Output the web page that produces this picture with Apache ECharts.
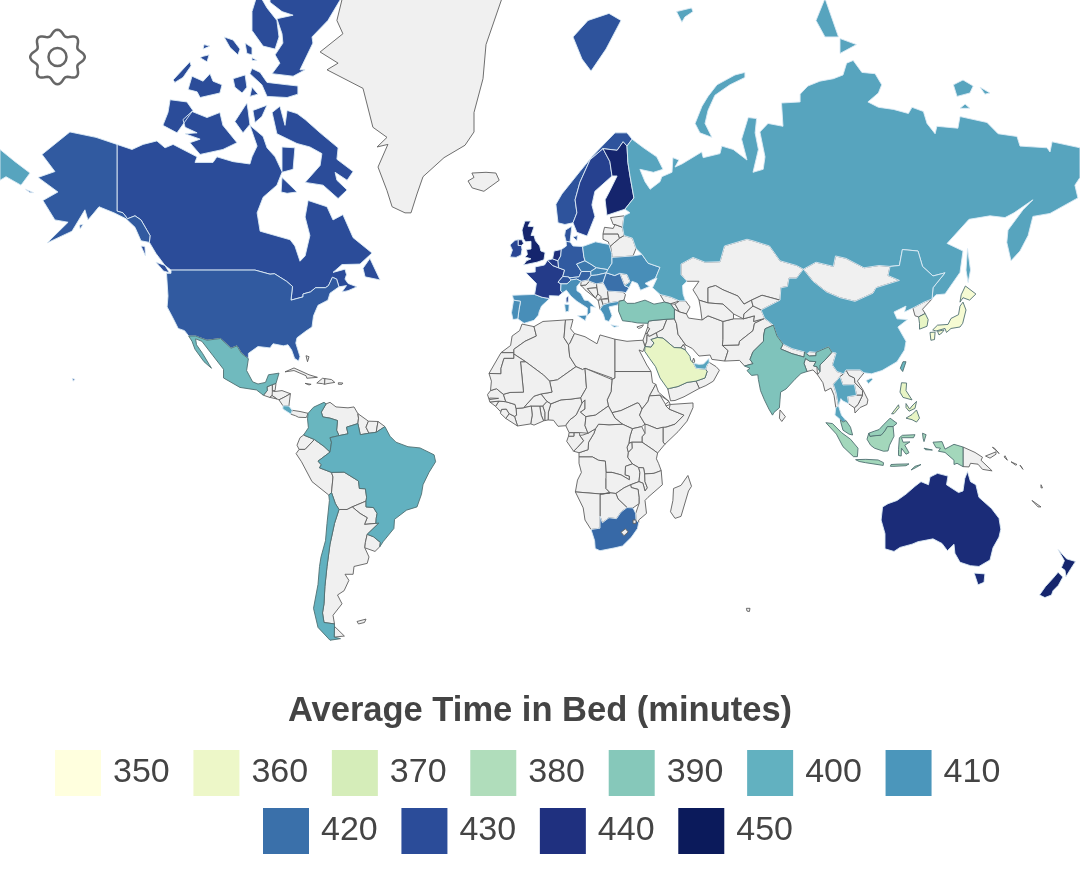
<!DOCTYPE html>
<html>
<head>
<meta charset="utf-8">
<title>Average Time in Bed</title>
<script src="https://cdn.jsdelivr.net/npm/echarts@6/dist/echarts.min.js"></script>
<style>
  html, body { margin: 0; padding: 0; background: #fff; }
  #main { width: 1080px; height: 887px; }
</style>
</head>
<body>
<div id="main"></div>
<script>
const countryNames = ['Canada','United States','Mexico','Colombia','Brazil','Chile','Costa Rica','Spain','Portugal','France','United Kingdom','Ireland','Netherlands','Belgium','Germany','Denmark','Norway','Sweden','Finland','Poland','Czechia','Austria','Switzerland','Italy','Slovakia','Hungary','Romania','Ukraine','Greece','Turkey','Russia','China','India','Saudi Arabia','United Arab Emirates','Japan','South Korea','Taiwan','Philippines','Thailand','Malaysia','Indonesia','Australia','New Zealand','South Africa'];
const countryValues = [430,426,396,398,400,400,404,412,412,436,445,432,441,436,426,428,428,434,445,411,418,424,428,412,414,418,420,412,411,390,405,405,392,362,405,355,362,398,362,405,386,383,442,445,422];
const legendRowOne = [350,360,370,380,390,400,410];
const legendRowTwo = [420,430,440,450];
const legendColors = ['#ffffde','#edf7c8','#d5edb9','#b0ddbb','#86c8ba','#62b1c0','#4b96bb','#3a70aa','#2b4c99','#1f307f','#0b1a5b'];

// lng,lat rings per country, fed to registerMap and projected by the chart
const outlines = {
  'Greenland': [[-62.7,83,-67.7,80,-65.7,79.2,-73.3,78,-67.3,77.2,-71,76.7,-59,75.2,-55.7,71.5,-51,70.4,-54.3,69.3,-50.7,69.6,-54,66.8,-51,63.5,-49.3,61,-45,60,-43,60,-41,63,-39,65.5,-32,68,-25,69.5,-22,71,-22,73,-19,76,-18,78.5,-12,81.5,-10,83]],
  'Iceland': [[-22.7,66,-18,66.1,-14.7,66,-13.6,65,-18.7,63.4,-22.6,63.9,-24,64.9,-22,65.4]],
  'Guatemala': [[-92.2,14.5,-90.9,16,-91,17.2,-89.2,17.9,-89.2,15.9,-88.3,15.7,-89.3,14.4,-90.1,13.8]],
  'Belize': [[-89.2,17.9,-88,18.3,-88.3,16,-89.2,15.9]],
  'Honduras': [[-89.2,15.9,-88.3,15.7,-86,16,-83.2,15,-85,14,-87,13,-87.7,13.3,-89.3,14.4]],
  'El Salvador': [[-90.1,13.8,-89.3,14.4,-87.7,13.3]],
  'Nicaragua': [[-87,13,-85,14,-83.2,15,-83.7,11,-85.7,11.1]],
  'Panama': [[-83,8.3,-82.6,9.6,-80,9.2,-77.3,8.6,-77.9,7.2,-80.5,7.3,-81.5,7.8]],
  'Cuba': [[-85,21.9,-82,23.1,-77,21,-74.2,20.2,-77.7,19.9,-78,20.7,-82,22.3]],
  'Haiti': [[-74.4,18.4,-72.5,19.9,-71.7,19.8,-71.8,18,-72.5,18.2]],
  'Dominican Republic': [[-71.7,19.8,-69.5,19.5,-68.4,18.6,-71,18.2,-71.8,18]],
  'Jamaica': [[-78.3,18.3,-76.3,18,-77,17.8]],
  'Puerto Rico': [[-67.2,18.5,-65.7,18.4,-66,18,-67.2,18]],
  'Bahamas': [[-78,26.8,-77,26.5,-77.5,25]],
  'Venezuela': [[-71.3,11.7,-70,12.2,-68,10.7,-64,10.4,-62,10.7,-60.7,8.5,-60.5,7,-60.7,5.2,-64.5,4,-64,1.8,-67,1.2,-67.8,3,-67.5,6.2,-70,7,-72.4,7.4,-72.9,9]],
  'Guyana': [[-60.7,8.5,-57.2,6,-58,4,-57,2,-59.9,1.5,-60.7,5.2,-60.5,7]],
  'Suriname': [[-57.2,6,-54,5.9,-54.6,2.3,-57,2,-58,4]],
  'French Guiana': [[-54,5.9,-51.7,4.2,-54.6,2.3]],
  'Ecuador': [[-78.8,1.4,-75.2,-0.1,-78.3,-3.4,-80.3,-3.4,-81,-2,-80,0.5]],
  'Peru': [[-80.3,-3.4,-78.3,-3.4,-75.2,-0.1,-72,-2.4,-70,-4.3,-74,-7.3,-72.9,-8.5,-73.5,-9.5,-69.5,-11,-69,-12.5,-69.5,-17.5,-70.4,-18.3,-76,-14,-79.5,-7.5,-81.3,-4.8]],
  'Bolivia': [[-69.5,-11,-65.3,-10.9,-60.5,-13.8,-60.2,-16.2,-58.2,-16.3,-57.8,-19,-58,-20.2,-62.6,-22,-64.3,-22.8,-67,-22.8,-68.2,-21,-69.5,-17.5,-69,-12.5]],
  'Paraguay': [[-58,-20.2,-58,-22,-55.5,-22.2,-54.3,-24,-54.6,-25.5,-54.7,-27,-58.5,-27.3,-57.6,-25.3,-60,-24,-62.6,-22]],
  'Argentina': [[-67,-22.8,-64.3,-22.8,-62.6,-22,-60,-24,-57.6,-25.3,-58.5,-27.3,-54.7,-27,-53.7,-26.9,-57.6,-30.2,-58.2,-32.5,-58.4,-34,-57,-36.5,-57.6,-38.2,-62,-39,-62.3,-41,-65,-41,-63.7,-42.5,-65.3,-45,-67.5,-46,-66,-48,-69,-50.5,-68.5,-52.3,-72,-52,-72.5,-50,-72,-48,-71.7,-44,-71,-39,-70,-33,-68.5,-27],[-68.6,-54.9,-65.2,-54.7,-68.5,-52.8]],
  'Uruguay': [[-57.6,-30.2,-55.5,-30.9,-53.2,-32.5,-53.4,-33.7,-55,-35,-58.4,-34,-58.2,-32.5]],
  'Falkland Islands': [[-61,-51.8,-58,-51.3,-58.5,-52,-60.5,-52.3]],
  'Slovenia': [[13.7,46.5,16,46.8,16.5,46.5,15.3,45.6,13.6,45.5]],
  'Croatia': [[13.6,45.5,15.3,45.6,16.5,46.5,18.8,45.9,19,45,15.8,44.8,18.5,42.5,15,44.5,14.2,45.2]],
  'Bosnia': [[15.8,44.8,19,45,19.3,43.5,18.5,42.5]],
  'Serbia': [[18.8,45.9,21,46.2,22.5,44.5,22.8,42.5,20.5,42.2,19.3,43.5,19,45]],
  'Montenegro': [[18.5,42.5,19.3,43.5,20.5,42.8,19.4,41.9]],
  'Albania': [[19.4,41.9,20.5,42.2,21,40.8,20,39.7]],
  'North Macedonia': [[20.5,42.2,22.8,42.3,23,41.3,21,40.9]],
  'Bulgaria': [[22.5,44.2,27.5,44,28.5,43.4,28,42,26.3,41.7,23,41.3,22.8,42.5]],
  'Moldova': [[26.6,48.3,29,48,30,46.4,28.2,45.5]],
  'Belarus': [[23.9,52.5,24,51.7,31,52,32,53.5,30.8,55.5,28,56,26.5,55.5,23.5,54]],
  'Lithuania': [[21,56.3,26,56.3,26.5,55.5,23.5,54,23,54.3,22.8,54.8,21,55.3]],
  'Latvia': [[21,56.3,21.5,57.5,24.4,57.3,25,58,27.5,57.5,28,56,26.5,55.5,26,56.3]],
  'Estonia': [[23.5,59.2,28,59.5,27.5,57.5,25,58,24.4,58]],
  'Georgia': [[40,43.4,43.7,42.7,46.5,41.8,43.5,41.1,41.5,41.5]],
  'Armenia': [[43.5,41.1,45,41,46.5,39,44.8,39.7]],
  'Azerbaijan': [[46.5,41.8,48.5,41.8,50,40.3,48.8,38.5,46.5,39,45,41]],
  'Cyprus': [[32.3,35,34.5,35.6,33.9,34.9,32.9,34.6]],
  'Syria': [[36,36,36.2,36.6,38,36.8,42.3,37.1,41,34.4,38.8,33.4,36.5,32.4,35.7,33.3,36.5,34.5,35.9,35]],
  'Lebanon': [[35.9,35,36.5,34.5,35.7,33.3,35.1,33.1]],
  'Israel': [[35.1,33.1,35.7,33.3,35.6,31,35,29.5,34.3,31.3]],
  'Jordan': [[35.6,31,35.7,32.7,36.5,32.4,38.8,33.4,39.2,32.1,37,31.5,38,30.5,37,29.3,35,29.5]],
  'Iraq': [[42.3,37.1,44.8,37.2,45.5,35.9,46,33,48.6,29.9,47.7,30,47,29.1,44.7,29.2,41,31.9,39.2,32.1,38.8,33.4,41,34.4]],
  'Kuwait': [[47.7,30,48.4,29.3,48.4,28.5,47,29.1]],
  'Qatar': [[51.2,24.5,50.8,25,51.2,26.1,51.6,25.2]],
  'Oman': [[55.2,22.7,55.7,24,56.4,24.8,58.7,23.5,59.8,22.4,57.8,19,55.3,17.6,53.1,16.7,52,19,55,20,55.7,22]],
  'Yemen': [[42.6,16.5,43.2,16.7,46,17.3,49,18.6,52,19,53.1,16.7,48,14,45,12.8,43.5,12.7]],
  'Iran': [[44.8,39.7,46.5,39,48.8,38.5,49.5,37.4,54,36.9,56,38,61,36.5,61,31.5,60.8,29.8,62.7,28.3,61.6,25.2,57.3,25.7,56.7,27,53,26.7,50.8,28.9,48.6,29.9,46,33,45.5,35.9,44.8,37.2]],
  'Afghanistan': [[61,36.5,64.5,37.2,67.8,37.2,71.5,38,71.2,36.5,74.9,37.3,71.5,36,71,34,69.5,33,66.5,31,66.3,29.9,60.8,29.8,61,31.5]],
  'Pakistan': [[60.8,29.8,66.3,29.9,66.5,31,69.5,33,71,34,71.5,36,74.9,37.3,77.8,35.5,75,34.5,74.5,32.5,74.5,31,71,28,70,25.7,71,24.4,68.2,23.7,66.5,25.4,61.6,25.2,62.7,28.3]],
  'Nepal': [[80.2,28.8,81,30.2,84,28.9,88.2,27.9,88,26.4,84,27.4]],
  'Bhutan': [[88.9,27.3,89.8,28,92,27.8,92,26.8,89.8,26.7]],
  'Bangladesh': [[88,24.5,88.5,26,89.8,25.2,92,25,91.2,23.7,92.3,23.5,92.5,21,91,22.5,89,22]],
  'Sri Lanka': [[80,9.7,81.8,7.5,80.6,5.9,79.8,7]],
  'Mongolia': [[87.8,49.2,92,50.7,97.8,49.8,98.5,52,102,51.5,108,49.5,113,50,116.7,49.8,116,47.8,119.8,46.7,112,45,111,43.7,105,41.7,100,42.6,95.5,44,91,46.5]],
  'Kazakhstan': [[47,50.3,51,51.7,55,50.7,60,50.8,61.5,54,69,55.3,71,55,76.5,54,80,51,85.5,50,87.8,49.2,85.5,47.2,83,47.2,82.5,45.3,80.3,45,80,42,74,43.2,70.5,42,68,41,66,43,61,44.5,58.5,45.5,56,45,56,41.3,53,42,52.5,42.8,51,44.5,53,46.5,49,46.5,47,48]],
  'Uzbekistan': [[56,45,58.5,45.5,61,44.5,66,43,68,41,70.5,42,71,40.5,68,38.5,67.8,37.2,64.5,38.5,61,41,56,41.3]],
  'Turkmenistan': [[53,42,56,41.3,61,41,64.5,38.5,64.5,37.2,61,36.5,56,38,54,36.9,53.5,40]],
  'Kyrgyzstan': [[70.5,42,74,43.2,80,42,73.7,39.5,71,40.5]],
  'Tajikistan': [[68,38.5,71,40.5,73.7,39.5,74.9,37.3,71.2,36.5,71.5,38,67.8,37.2]],
  'Myanmar': [[92.5,21,93.3,22,93.3,24,95,25.5,97.3,27.8,98.7,27.6,97.5,24,99,22,101.2,21.3,100,20.4,97.8,18,98.7,15.3,99.5,11,98.6,10.5,98,14.5,97,16.8,95,15.8,94.3,18.5]],
  'Laos': [[101.2,21.3,102,22.5,103,20.8,104.8,20,105,18.5,107.5,16,107.5,14.5,105.5,14.5,104.8,17.9,101,17.8,100,20.4]],
  'Vietnam': [[102,22.5,106.7,22.5,108,21.6,105.8,19,107.5,16.5,109.3,13,109,11.5,106.7,10.5,105,8.7,104.8,10.4,106,11.5,107.5,14.5,107.5,16,105,18.5,104.8,20,103,20.8]],
  'Cambodia': [[102.5,14,105.5,14.5,107.5,14.5,106,11.5,104.8,10.4,102.9,11.7]],
  'Papua New Guinea': [[141,-2.6,145,-4.4,147.5,-6,147,-7,150.7,-10.5,147.5,-10,146,-8.3,143.5,-8,143,-9.2,141,-9.1],[148.5,-5.6,152,-4.2,152,-5,150,-6.3],[150.8,-2.7,152.8,-4.4,153,-4.8,151.5,-3]],
  'Solomon Islands': [[155,-5.5,155.8,-7,154.7,-5.9],[157,-7.5,159,-8.4,158.5,-8.6],[160,-8.6,161,-10,160.7,-10]],
  'Vanuatu': [[167,-15,167.5,-16,167,-16]],
  'New Caledonia': [[164,-20,167,-22,166,-22]],
  'North Korea': [[124.3,40,128,41.5,130.7,42.3,127.5,39.7,128.4,38.6,126.2,37.7,125,38]],
  'Kerguelen': [[68.8,-49,70,-49,69.8,-49.7,69,-49.6]],
  'Morocco': [[-6,35.8,-2,35.1,-1.2,32.5,-5,31,-8.7,28.7,-8.7,27.7,-13,27.7,-9.8,29.8,-9.3,32.5,-6.8,34]],
  'Western Sahara': [[-8.7,27.7,-13,27.7,-17,21.4,-13,21.3,-13,23,-12,26,-8.7,26]],
  'Algeria': [[-2,35.1,-1.2,32.5,-5,31,-8.7,28.7,-8.7,27.3,-4.8,25,1.2,20.9,3.2,19,5.8,19.4,12,23.5,9.9,26.5,9.5,30,8,32,8.5,36.9,1,36.5]],
  'Tunisia': [[8.5,36.9,11,37,10.2,34.5,11.5,33.2,10,30.5,9.5,30,8,32]],
  'Libya': [[11.5,33.2,15,32.3,19,30.3,20,32.8,25,31.6,25,20,24,19.5,24,20,15,23,14.2,22.6,12,23.5,9.9,26.5,9.5,30,10,30.5]],
  'Egypt': [[25,31.6,29,31,32,31.2,34.3,31.3,35,29.5,34.3,28,33,28.5,35.6,24,37,22,25,22]],
  'Sudan': [[25,22,37,22,37.5,18.5,38.6,18,36.5,14.3,36,12.5,34,10,33,11.8,32.4,12,27,9.5,24,8.8,22.8,11,22.4,13,23.7,15.7,24,19.5,25,20]],
  'South Sudan': [[24,8.8,27,9.5,32.4,12,33,11.8,34,10,33.2,8,35,5,33.9,4.2,30.8,3.5,27.5,5,25,7]],
  'Eritrea': [[38.6,18,39.5,15.5,43,12.5,40,14.5,36.5,14.3]],
  'Djibouti': [[43,12.5,43.4,11.5,42,11,41.8,11.6]],
  'Ethiopia': [[36.5,14.3,40,14.5,41.8,11.6,42,11,43,10,48,8,45,5,42,4,39,3.5,35.8,4.8,35,5,33.2,8,34,10,36,12.5]],
  'Somalia': [[43,10,43.4,11.5,51,12,51,10.5,49,6,46,2.5,41.6,-1.7,41,-0.9,41,4,42,4,45,5,48,8]],
  'Kenya': [[35,5,35.8,4.8,39,3.5,41,4,41,-0.9,41.6,-1.7,39.2,-4.6,37.7,-3.5,34,-1,34,0.8,35,2]],
  'Uganda': [[30.8,3.5,33.9,4.2,35,2,34,0.8,34,-1,30.6,-1,29.6,-1.4,30,1]],
  'Tanzania': [[30.6,-1,34,-1,37.7,-3.5,39.2,-4.6,38.8,-6.5,39.5,-8,40.4,-10.4,38,-11.3,34.9,-11.5,34.5,-9.5,32.9,-9.4,30.8,-8.2,29.2,-6,29.4,-4.4,30.7,-3]],
  'Rwanda': [[29,-2.7,29.6,-1.4,30.6,-1,30.7,-3,29.4,-4.4,29,-3]],
  'DR Congo': [[13,-5.9,13,-4.5,16,-3.5,16.2,-1,18,2,18.5,3.5,19.5,5,23,4.8,27.5,5,30.8,3.5,30,1,29.6,-1.4,29,-2.7,29,-3,29.4,-4.4,29.2,-6,30.8,-8.2,28.5,-9,28.4,-11.8,29.8,-12.2,29.8,-13.4,27,-11.8,24,-11,22,-11,21.8,-7.3,19.5,-7,17.5,-5.9]],
  'Congo': [[11.2,-4,13,-4.5,16,-3.5,16.2,-1,18,2,18.5,3.5,16,2,14.3,1.4,13.2,1.3,14.5,-0.5,12.5,-2.7]],
  'Gabon': [[8.9,-0.7,9.5,1,11.3,1,11.3,2.2,13.2,2.2,13.2,1.3,14.5,-0.5,12.5,-2.7,11.2,-4]],
  'Equatorial Guinea': [[9.5,1,9.7,2.2,11.3,2.2,11.3,1]],
  'Cameroon': [[8.6,4.5,9.7,2.2,11.3,2.2,13.2,2.2,16,2,15,4.5,15.3,7.5,13.5,9,15,10,15,13,14,12,12,8,10,6.5,8.8,5]],
  'Nigeria': [[2.7,6.4,4.5,6.3,6,4.3,8.6,4.5,8.8,5,10,6.5,12,8,14,12,13.6,13.7,10,13.2,7,13,3.6,11.7,2.8,9]],
  'Niger': [[3.6,11.7,7,13,10,13.2,13.6,13.7,15.5,16.9,15,23,14.2,22.6,12,23.5,5.8,19.4,3.2,19,4,15.5,0.3,14.9,2.3,12.5]],
  'Chad': [[13.6,13.7,14,12,15,13,15,10,13.5,9,15.3,7.5,18.5,8,22.8,11,22.4,13,23.7,15.7,24,19.5,15,23,15.5,16.9]],
  'Central African Republic': [[15,4.5,16,2,18.5,3.5,19.5,5,23,4.8,27.5,5,25,7,24,8.8,22.8,11,18.5,8,15.3,7.5]],
  'Benin': [[1.6,6.2,2.7,6.4,2.8,9,3.6,11.7,2.3,12.5,0.9,11,1.6,9]],
  'Togo': [[1.2,6.1,1.6,6.2,1.6,9,0.9,11,-0.1,11,0.4,8]],
  'Ghana': [[-3.1,5.1,-2,4.7,1.2,6.1,0.4,8,-0.1,11,-2.9,11,-2.6,8]],
  'Burkina Faso': [[-2.9,11,-0.1,11,0.9,11,2.3,12.5,0.3,14.9,-2,14.2,-5.5,10.4]],
  'Ivory Coast': [[-7.5,4.4,-3.1,5.1,-2.6,8,-2.9,11,-5.5,10.4,-8,10.2,-7.8,8,-8.5,7.6]],
  'Liberia': [[-11.4,6.9,-7.5,4.4,-8.5,7.6,-10.3,8.5]],
  'Sierra Leone': [[-13.2,8.6,-11.4,6.9,-10.3,8.5,-11.2,10,-12.8,9.9]],
  'Guinea': [[-14.8,10.9,-13.2,9.2,-12.8,9.9,-11.2,10,-10.3,8.5,-8.5,7.6,-7.8,8,-8,10.2,-8.3,11.5,-11.4,12.4,-13.7,12.6]],
  'Guinea-Bissau': [[-16.7,12.3,-13.7,12.6,-14.8,10.9]],
  'Senegal': [[-17.5,14.7,-16.5,16,-14.5,16.6,-12.2,14.8,-11.4,12.4,-13.7,12.6,-16.7,12.3]],
  'Gambia': [[-16.8,13.6,-13.8,13.5,-13.8,13.3,-16.8,13.1]],
  'Mali': [[-12.2,14.8,-11.4,12.4,-8.3,11.5,-8,10.2,-5.5,10.4,-2,14.2,0.3,14.9,4,15.5,3.2,19,1.2,20.9,-4.8,25,-6.5,25,-5.5,15.5,-10,15.4]],
  'Mauritania': [[-17,21.4,-13,21.3,-13,23,-12,26,-8.7,26,-8.7,27.3,-4.8,25,-6.5,25,-5.5,15.5,-10,15.4,-12.2,14.8,-14.5,16.6,-16.5,16,-16.2,19]],
  'Angola': [[13,-5.9,17.5,-5.9,19.5,-7,21.8,-7.3,22,-11,24,-11,22,-13,22,-16.2,23.4,-17.6,20.8,-18,11.8,-17.3,12.5,-13.5,13.8,-11,13,-8]],
  'Zambia': [[22,-11,24,-11,27,-11.8,29.8,-13.4,29.8,-12.2,28.4,-11.8,28.5,-9,30.8,-8.2,32.9,-9.4,33.3,-11,33,-14,30.2,-15,28,-16,25.3,-17.8,23.4,-17.6,22,-16.2,22,-13]],
  'Malawi': [[32.9,-9.4,34.5,-9.5,34.9,-11.5,35,-14,35.8,-16,35,-17,34.3,-14.5,33,-14,33.3,-11]],
  'Mozambique': [[40.4,-10.4,40.8,-15,36,-19,35,-20,35.5,-24,32.9,-26,32.9,-26.8,32,-26,31.9,-24,33,-21,33,-19,32.7,-16.5,30.4,-15.9,30.2,-15,33,-14,34.3,-14.5,35,-17,35.8,-16,35,-14,34.9,-11.5,38,-11.3]],
  'Zimbabwe': [[25.3,-17.8,28,-16,30.2,-15,30.4,-15.9,32.7,-16.5,33,-19,33,-21,31,-22.3,29,-22.2,26,-19.5]],
  'Botswana': [[20,-18,23.4,-17.6,25.3,-17.8,26,-19.5,29,-22.2,27,-23.6,25.5,-25.6,23,-25.3,20.8,-26.8,20,-24.8]],
  'Namibia': [[11.8,-17.3,20.8,-18,23.4,-17.6,20,-18,20,-24.8,20,-28.4,17,-28.8,15,-26,14.4,-22.3]],
  'Madagascar': [[49.3,-12,50.5,-15.5,49.5,-17,47,-24.9,45,-25.5,43.5,-23.5,44.3,-20,44.5,-16.2,47,-15.2]],
  'Canada': [[-141,69.6,-136,69,-132.3,69.6,-127.7,70,-125,69.2,-122.3,69.6,-114.3,68.1,-115,67.4,-109,67.4,-107.7,68.1,-102.3,67.5,-96.7,67.2,-96,68.1,-94.3,69.4,-96.7,71.7,-92.3,70.5,-91,69.2,-88.3,68.1,-86,66.2,-86,69.3,-81.7,69.2,-82.3,66.5,-86,66.1,-87.7,64.3,-92.3,62.5,-94.3,60,-93.3,56.8,-83.3,55.2,-81.7,54,-80,50.9,-78.3,52,-76.7,56,-78.3,59.3,-77.3,62,-71,61,-69,58.8,-65.7,59.7,-62.3,55.6,-56,52.6,-60,50.3,-66,50.2,-69,48.5,-65,49.2,-64.5,48,-65,47,-64,46,-61,45.2,-64,44.3,-66,44,-64.5,45.5,-67,45.2,-67.8,47,-69.2,47.4,-70.5,45.5,-71.5,45,-74.8,45,-76.5,44,-79,43.5,-79,42.8,-83,42,-82.5,45.3,-84.5,46.5,-88.5,48.2,-90,48.1,-95,49,-123,49,-125,50,-128,52.5,-130.2,54.7,-130,56,-133,58.8,-135,59.5,-137.5,59,-139,60,-141,60.3],
    [-89.3,73,-86.7,73.6,-85,71.7,-84.3,73.2,-81,72.9,-78.3,72.3,-73.3,70.9,-67.3,69.2,-67.7,67.8,-62.3,66.2,-64.3,65,-68.3,66.1,-67.7,65,-64.3,63.6,-67.3,62.3,-72.3,64.3,-78.3,64.7,-73.3,67,-72.7,68.5,-76.7,69.3,-81,69.7,-87.7,70.8],
    [-119,72.3,-116,73.1,-111,72.5,-106.7,73,-105.7,71.7,-101,69.8,-105.7,69,-113.3,68.4,-116.7,69.8,-113.3,70.2,-118.3,70.8,-114.3,70.9,-118.3,71.5],
    [-123.3,74.2,-117.7,74,-115.7,73.2,-121,70.9,-125.7,71.7,-124,73],
    [-90,81.5,-66.7,82,-66.7,81.1,-70.7,80,-76,79,-75.7,78.6,-80,76.7,-78.3,76.7,-82.3,76.2,-89.3,76.4,-86.7,77.2,-88.3,77.8,-85.7,78.6,-86,79.2,-87.7,80.1,-82.3,80.3,-86,80.5,-90,81],
    [-94,81.5,-96,80.5,-96,79.4,-92.3,78.4,-88.3,78.2,-87,79,-87.7,80,-91,80.7],
    [-96,76.8,-93.3,76.5,-91,75.7,-84.3,75.5,-80.7,75.4,-80.7,74.7,-84.3,74.4,-91,74.5,-92.7,75.5,-96.7,76.4],
    [-122.3,75.9,-116.7,77.3,-116.3,77,-119,76.1,-121.7,75.7],
    [-117.3,75.1,-116,76.2,-112.3,75.8,-110,76.4,-109,75.8,-106,75.5,-106.7,74.8,-113.3,74.4,-114.3,74.9],
    [-102.3,76,-98.3,76.3,-97.7,75.3,-99.3,74.8,-101.7,75.3],
    [-112.3,77.7,-110.3,77.8,-111,77.3,-113.3,77.6],
    [-112,78.5,-110,78.4,-112.3,78.2],
    [-105.3,79,-102.3,78.8,-100,78.2,-100.7,77.8,-103.3,78.3],
    [-98.3,78.6,-96,78.3,-96,77.8,-97.7,77.9],
    [-96,77.6,-94.3,77.4,-96,77.4],
    [-96,75.3,-94,74.7,-96.7,74.5],
    [-101.7,72.1,-97.7,73.9,-97.3,73.2,-96.7,71.8,-99,70.9],
    [-95.7,73.2,-91,73.7,-92.7,72.6,-95,72],
    [-86,65.4,-81,63.3,-84.3,63.1,-86.3,63.3],
    [-59,49.4,-56.7,51.5,-53.3,46.8,-58.3,47.5],
    [-128,50.7,-125,50,-123.5,48.4,-125.5,48.8],
    [-133,54,-131.7,53.9,-131.5,52]],
  'United States': [[-123,49,-95,49,-90,48.1,-88.5,48.2,-84.5,46.5,-82.5,45.3,-83,42,-79,42.8,-79,43.5,-76.5,44,-74.8,45,-71.5,45,-70.5,45.5,-69.2,47.4,-67.8,47,-67,45.2,-70,43.7,-70.7,42,-74,40.7,-75.5,38,-76,35,-78,33.9,-81,32,-81.4,30.5,-80,26.5,-80.5,25.2,-81.8,26,-82.8,28.5,-84,30,-85.5,29.7,-89,30.3,-90,29.1,-94,29.5,-97.2,27.5,-97.2,25.9,-99.5,27.5,-101,29.7,-103,29,-106.5,31.8,-111,31.3,-114.8,32.5,-117.1,32.5,-118.5,34,-120.6,34.6,-122.4,37.5,-124.3,40.3,-124,43,-124.5,48.3,-123,48.3],
    [-141,69.6,-141,60.3,-139,60,-137.5,59,-135,59.5,-133,58.8,-130,56,-130.2,54.7,-133,55,-135,57.5,-138,59,-142,60,-147,61,-149,59.8,-150.7,58.8,-151.7,60.5,-156,56.8,-164.3,54.6,-157.3,58.4,-161.7,58.8,-165.7,62,-160.7,63.3,-167.3,65.4,-161.7,66.2,-166,68.4,-156.7,71,-148,70.4],
    [-153.5,57.9,-152.3,58,-153.3,57.2],[-171.5,63.7,-168.8,63.2,-170,63.2],
    [-155.9,19.8,-155,19.6,-155.6,19]],
  'Mexico': [[-117.1,32.5,-114.8,32.5,-111,31.3,-106.5,31.8,-103,29,-101,29.7,-99.5,27.5,-97.2,25.9,-97.8,22.3,-95.8,18.8,-94,18.1,-91.5,18.6,-90.5,21,-87,21.5,-88,18.3,-89.2,17.9,-91,17.2,-90.9,16,-92.2,14.5,-94.5,16.2,-100,17,-105.5,20,-105.5,22.7,-109,26.8,-112.7,31,-114.8,31.7,-114.5,30,-112.5,27.5,-110.3,24.2,-109.5,23,-112,25,-115,28.7,-116,31]],
  'Costa Rica': [[-85.7,11.1,-83.7,11,-82.6,9.6,-83,8.3,-85.7,10]],
  'Colombia': [[-77.3,8.6,-75.5,10.6,-72,12.2,-71.3,11.7,-72.9,9,-72.4,7.4,-70,7,-67.5,6.2,-67.8,3,-67,1.2,-70,0.5,-69.5,-1,-70,-4.3,-72,-2.4,-75.2,-0.1,-78.8,1.4,-77.2,3.8,-77.5,6.8]],
  'Brazil': [[-51.7,4.2,-50,1,-48,-1,-44,-2.5,-40,-2.9,-35.3,-5.2,-34.8,-7.5,-37,-11,-39,-15,-39.5,-18,-41,-22,-44.5,-23,-48.5,-25.8,-48.7,-28.5,-52.2,-32.2,-53.4,-33.7,-53.2,-32.5,-55.5,-30.9,-57.6,-30.2,-53.7,-26.9,-54.7,-27,-54.6,-25.5,-54.3,-24,-55.5,-22.2,-58,-22,-58,-20.2,-57.8,-19,-58.2,-16.3,-60.2,-16.2,-60.5,-13.8,-65.3,-10.9,-69.5,-11,-73.5,-9.5,-72.9,-8.5,-74,-7.3,-70,-4.3,-69.5,-1,-70,0.5,-67,1.2,-64,1.8,-64.5,4,-60.7,5.2,-59.9,1.5,-57,2,-54.6,2.3]],
  'Chile': [[-70.4,-18.3,-69.5,-17.5,-68.2,-21,-67,-22.8,-68.5,-27,-70,-33,-71,-39,-71.7,-44,-72,-48,-72.5,-50,-72,-52,-68.5,-52.3,-68.6,-54.9,-66.5,-55.2,-70,-55.5,-74,-53,-75.5,-49,-74,-43.5,-73.5,-39,-73,-36.5,-71.5,-32,-71,-27,-70.2,-20]],
  'Spain': [[-9.2,43.2,-1.8,43.4,0.7,42.7,3.2,42.4,0.5,40.5,-0.3,39,-0.5,38.2,-2,36.8,-5.3,36,-7.4,37.2,-7,39.6,-6.5,41.7,-8.8,42]],
  'Portugal': [[-8.8,42,-6.5,41.7,-7,39.6,-7.4,37.2,-9,37,-9.5,38.8]],
  'France': [[-1.8,43.4,-1.2,46,-4.7,48.4,-1.6,48.6,-1.6,49.7,1.5,50.1,2.5,51.1,4.2,50,6.2,49.5,8.2,49,7.6,47.6,6,46.3,7,45.9,6.9,44.3,7.5,43.8,6.2,43,3.1,43.1,3.2,42.4,0.7,42.7],[8.7,42.6,9.5,43,9.4,41.5,8.7,41.5]],
  'United Kingdom': [[-5.5,50.1,-1,50.7,1.3,51.2,1.7,52.7,0.3,53,-0.1,54,-1.5,55,-2,56,-3,56,-2,57.6,-4,57.7,-3.1,58.6,-5,58.6,-6,57,-5.5,55.4,-4.8,54.8,-3,54.9,-3,53.4,-4.5,53.3,-4.2,52.3,-5,51.8,-3,51.4,-4.5,51],[-5.5,54.5,-6,55.2,-7.3,55.2,-7.3,54.1,-6.2,54.1]],
  'Ireland': [[-6.2,54.1,-7.3,54.1,-7.3,55.2,-8.3,55.1,-10,54.2,-9.2,53.2,-10,51.8,-8,51.7,-6.3,52.2,-6,53.3]],
  'Belgium': [[2.5,51.1,4.2,51.4,6,51,6.2,49.5,4.2,50]],
  'Netherlands': [[4.2,51.4,4.7,53,7.1,53.3,6.9,52,6,51]],
  'Germany': [[6,51,6.9,52,7.1,53.3,8.8,54,8.7,54.9,10,54.8,11,54,14.2,53.9,14.6,51.9,15,51,12.2,50.3,13.8,48.7,13,47.5,10,47.3,7.6,47.6,8.2,49,6.2,49.5]],
  'Denmark': [[8.7,54.9,8.2,56,8.5,57,10.6,57.7,10.3,56.2,10,54.8],[11,55.7,12.5,56,12.3,55]],
  'Switzerland': [[6,46.3,7.6,47.6,9.5,47.5,10.4,46.8,9,45.9,7,45.9]],
  'Austria': [[9.5,47.5,10,47.3,13,47.5,13.8,48.7,16.9,48.7,17,47.8,16,46.8,13.7,46.5,12.2,47,10.4,46.8]],
  'Italy': [[7,45.9,9,45.9,10.4,46.8,12.2,47,13.7,46.5,12.3,45.3,12.3,44.3,13.6,43.6,14.8,42,16,41.9,18.5,40.2,16.9,40.4,16.9,38.9,15.7,38,15.8,40,12.3,41.7,10.3,43,8.8,44.4,7.5,43.8,6.9,44.3],[12.5,38,15.6,38.2,15.1,36.7],[8.2,41,9.7,40.9,9.6,39.2,8.5,39]],
  'Czechia': [[12.2,50.3,15,51,16.9,50.3,18.8,49.5,16.9,48.7,13.8,48.7]],
  'Poland': [[14.2,53.9,18.5,54.8,23,54.3,23.9,52.5,24,50.5,22.6,49.1,18.8,49.5,16.9,50.3,15,51,14.6,51.9]],
  'Slovakia': [[16.9,48.7,18.8,49.5,22.6,49.1,22.1,48.4,18.8,47.9,17,47.8]],
  'Hungary': [[17,47.8,18.8,47.9,22.1,48.4,21,46.2,18.8,45.9,16.5,46.5,16,46.8]],
  'Romania': [[22.1,48.4,24.9,47.8,26.6,48.3,28.2,45.5,29.7,45,28.6,43.8,27.5,44,22.5,44.2,21,46.2]],
  'Ukraine': [[24,50.5,24,51.7,31,52,34,52.3,36,50.5,40,49.6,38.5,47.2,35,46,36.5,45.3,33.5,44.4,32.5,46,30.7,46.5,29.7,45,28.2,45.5,30,46.4,29,48,26.6,48.3,24.9,47.8,22.1,48.4,22.6,49.1]],
  'Greece': [[20,39.7,21,40.8,23,41.3,26.3,41.7,26,40.8,23,40.3,24,38,23,36.5,21.7,36.8,21.1,38.4],[23.6,35.6,26.3,35.2,24.7,34.9]],
  'Turkey': [[26.3,41.7,28,42,29,41.2,31.5,41.2,35,42,38,41,41.5,41.5,43.5,41.1,44.8,39.7,44.8,37.2,42.3,37.1,38,36.8,36.2,36.6,36,36,32.5,36.1,30.5,36.4,27.5,36.7,26.2,39.2,26.2,40.5]],
  'Norway': [[5.3,61.4,7.3,63,13.3,66.2,17.3,68.1,20.7,69.4,25,70.9,29,70.9,30.7,70.2,29,69.4,27.7,69.9,25.7,68.9,21,69.1,16.7,67.75,13.3,64.7,11.7,62.1,12.3,60,11,58.3,8.3,58,6,58.3],[14,77.5,11,79,16,80,23,80.4,27,80,22,78.2,17,76.6]],
  'Sweden': [[13.3,64.7,16.7,67.75,21,69.1,23.3,67.5,24,65.6,18.3,63.4,17.3,61.3,18.3,59.4,15.7,55.9,12.3,56.6,11,58.3,12.3,60,11.7,62.1]],
  'Finland': [[21,69.1,25.7,68.9,27.7,69.9,29,69.4,29.3,67.4,30,65.6,31.3,62.4,28.3,60.6,22.3,59.6,21.7,62.1,23.3,63.5,25.7,65.6,24,65.6,23.3,67.5]],
  'Russia': [[30.7,70.2,34.5,69.2,38.9,68.1,41,66.5,37.8,66.1,33.3,66.5,35,64.8,36.7,63.7,40,64.8,40.6,65.5,44,66.1,44.3,68,46.3,67.7,45,66.8,47.3,67.2,53.9,68.7,54.4,68,60,68.5,60.6,69.4,64.4,69,69,67.7,67.2,70.2,69.4,72.5,72.2,72.4,71.7,70.9,72.8,69,71,66.1,74.4,66.5,75,68.1,73.3,71,76,71.9,81,71.6,80.5,73.9,86.7,74,86.7,74.7,89.3,75.4,93.3,75.8,97.8,76,101,76.3,102.2,77.2,104.4,77.4,107.3,76.5,111.7,76.4,113.9,75.5,112.8,74.8,109.3,74,112.8,73.5,117.8,73.3,122.8,72.9,124,73.5,127.8,73.1,129,71.9,131.7,70.8,132.3,71.6,139.3,71.4,140,72.6,149,72,152.7,70.8,159,70.5,160,69.4,169,69.2,170,68.7,170.7,69.9,180,69.2,180,65.4,178.3,64.3,179.3,62.4,170,59.9,164.3,59.4,162.7,56,160,53,157,51,155.6,54.7,156,57,161,60.5,164.3,62.1,158,60,155,59.2,150,59.5,143,58.9,135.7,54.5,141,53,140,48.5,135,43.5,132,43.3,130.7,42.3,131,45,135,48.4,131,47.7,127.5,49.8,126,53,120.8,53.3,119.8,50,116.7,49.8,113,50,108,49.5,102,51.5,98.5,52,97.8,49.8,92,50.7,87.8,49.2,85.5,50,80,51,76.5,54,71,55,69,55.3,61.5,54,60,50.8,55,50.7,51,51.7,47,50.3,47,48,49,46.5,47.5,45.5,47.7,43.5,48.5,41.8,46.5,41.8,43.7,42.7,40,43.4,37.5,45,39,47.2,38.5,47.2,40,49.6,36,50.5,34,52.3,32,53.5,30.8,55.5,28,56,27.5,57.5,28,59.5,30,60,28.3,60.6,31.3,62.4,30,65.6,29.3,67.4,29,69.4],
    [-180,69,-175,67.5,-170,66,-173,64.3,-178,65.5,-180,65],
    [142.5,53.5,143.5,49,142.7,46.2,142,49],
    [68.3,76.5,65,76.3,59,75.5,56,74.5,54,73.6,51.7,71.9,53.3,70.9,57.3,70.4,55,71.9,56,73.2,58.3,74.6,63.3,75.5,68.3,76.1],
    [92,80,95,81.2,99.5,79,95,79],[100,78.9,105.5,78.5,100,77.9],
    [137.8,75.5,141,75.9,144.4,75.4,143.3,74.8,139,74.5],[146.7,75.3,150,74.8,148.3,74.7],[140,73.4,141.7,73.8,143.3,73.4],
    [45.5,80.5,50.5,80.7,51,80.5,48.3,80.2,47.3,79.9]],
  'China': [[74.9,37.3,73.7,39.5,80,42,80.3,45,82.5,45.3,83,47.2,85.5,47.2,87.8,49.2,91,46.5,95.5,44,100,42.6,105,41.7,111,43.7,112,45,119.8,46.7,116,47.8,116.7,49.8,119.8,50,120.8,53.3,126,53,127.5,49.8,131,47.7,135,48.4,131,45,130.7,42.3,128,41.5,124.3,40,121.5,39,122,40.5,118,39,119,37.2,122.5,37,119.3,35,122,31,121.5,28.5,119,25,114,22.3,110.5,21.3,108,21.6,106.7,22.5,102,22.5,101.2,21.3,99,22,97.5,24,98.7,27.6,97.3,27.8,96.2,29.4,92,27.8,89.8,28,88.9,27.3,88.2,27.9,84,28.9,81,30.2,79,32.5,77.8,35.5],[108.7,19.2,110.5,20,110.9,19.5,109.5,18.2]],
  'India': [[77.8,35.5,79,32.5,81,30.2,80.2,28.8,84,27.4,88,26.4,88.2,27.9,88.9,27.3,89.8,26.7,92,26.8,92,27.8,96.2,29.4,97.3,27.8,95,25.5,93.3,24,93.3,22,92.3,23.5,91.2,23.7,92,25,89.8,25.2,88.5,26,88,24.5,89,22,87,21.4,85,19.6,82,16.5,80.2,15.5,80,13,79.8,10.4,78,8.9,77.5,8,76.3,10,74.8,13,73.5,16,72.8,19.5,72.6,21,70.5,20.8,69,22.3,70,23,68.2,23.7,71,24.4,70,25.7,71,28,74.5,31,74.5,32.5,75,34.5]],
  'Saudi Arabia': [[35,29.5,37,29.3,38,30.5,37,31.5,39.2,32.1,41,31.9,44.7,29.2,47,29.1,48.4,28.5,50,26.6,50.2,25.5,51.2,24.5,52,23,55.2,22.7,55.7,22,55,20,52,19,49,18.6,46,17.3,43.2,16.7,42.6,16.5,40,20,38.5,23.5,36.5,26,34.9,28.1]],
  'United Arab Emirates': [[52,23,51.2,24.5,53,24.2,54.5,24.3,56.3,26,56.4,24.8,55.7,24,55.2,22.7]],
  'Japan': [[130.9,34.2,132.5,35.5,136,35.7,137,37.3,139.5,38.3,140,40.5,141,41.5,142,39.5,140.9,36,140,35,137,34.6,135.5,33.5,135,34.6,132,33.9],[140,41.5,140.4,43.3,141.8,45.4,145.3,43.5,143.2,42,141,42.6],[130,33.5,131.7,33.6,131.5,31.5,130.3,31.3],[132.5,33.8,134.7,34.2,134,33.4,133,32.8]],
  'South Korea': [[126.2,37.7,128.4,38.6,129.4,37,129,35.2,126.5,34.4,126.5,36]],
  'Taiwan': [[121,25,122,25,120.9,22,120.1,23]],
  'Philippines': [[120.5,18.5,122.2,18.4,122,16,124,13,121,13.8,120,15.5],[122,7,124,8.2,125.5,9.7,126.5,7,125.5,5.7,124,6.5],[122,11.8,123.2,10,124,11,125.5,12.5,125,10.2,123,9.3,122,10.5],[117.2,8.4,119.5,11.4,119.7,10.5,118,8.5]],
  'Thailand': [[100,20.4,101,17.8,104.8,17.9,105.5,14.5,102.5,14,102.9,11.7,100.9,12.7,100.3,13.4,99.5,11,100.5,8,102,6.2,101,5.7,100.1,6.5,99.6,7,98.3,8,98.6,10.5,99.5,11,98.7,15.3,97.8,18]],
  'Malaysia': [[100.1,6.5,101,5.7,102,6.2,103.5,4,104.2,1.4,103,1.7,101,3,100.3,5.5],[109.6,2,111.5,2.7,113,3.2,114.5,4.8,116.7,7,119,5.3,117.7,4.2,115.8,4.2,115,2.8,113.7,1.3,112,1.2,110,0.9]],
  'Indonesia': [[109.6,2,110,0.9,112,1.2,113.7,1.3,115,2.8,115.8,4.2,117.7,4.2,118,1,117.5,0,116.5,-2,116,-3.9,114.5,-4,111.5,-3,110.2,-2,109,0],
    [95.3,5.5,97.5,5.2,100.5,2.2,103.5,0,106,-3,105.8,-5.8,104.5,-5.8,101,-2.5,98.8,1.7],
    [105.2,-6.8,108.6,-6.7,112.7,-6.9,114.5,-7.8,114.4,-8.7,108.5,-7.8,106.4,-7.4],
    [119.5,-3.5,119.8,0.5,120.8,1.3,125,1.5,124.5,0.5,120.5,0.5,121,-1,123.3,-0.9,121.6,-2,123,-4.5,122,-5,120.5,-3,120.4,-5.6,119.5,-5.4],
    [117,-8.4,119,-8.3,123,-8.2,122,-8.8,118,-9,116.8,-9],[123.7,-10.2,125,-9,127,-8.4,125.5,-9.3],
    [127.5,2,128.7,1.5,128,-0.8,127.7,0.3],[128,-3,130.8,-3.6,128.5,-3.5],
    [131,-1,134,-0.8,135,-3.3,138,-1.7,141,-2.6,141,-9.1,139,-8,138,-8.4,138,-7,135,-4.4,132.8,-4,133.5,-3,132,-2.8]],
  'Australia': [[114.2,-22,113.7,-26,115,-30,115,-34.3,118,-35,120,-33.9,124,-33,126,-32.3,131,-31.5,134,-32.8,135.8,-34.8,138,-33,138.3,-35.5,140,-37.9,143.5,-38.8,146.3,-39,150,-37.3,151,-34,153,-31,153.6,-28.7,153,-25.5,150.5,-22.5,146.3,-19,145.3,-15,143.5,-14,142.5,-10.7,141.6,-13,141,-17,139.5,-17.5,135.5,-15,136,-12.2,132.5,-11.3,130,-12.5,129.5,-15,127,-14,125,-15.5,122,-18,119,-20,116,-21],[144.7,-40.7,148.3,-40.9,148,-43,146,-43.6,145.3,-42]],
  'New Zealand': [[172.7,-34.5,175.5,-37,178.5,-37.7,177,-39.5,175.3,-41.6,175,-40,173.8,-39.3,174.8,-37.5],[172.7,-40.5,174.3,-41.7,172.8,-43.7,171,-45,170.5,-46,168.3,-46.6,166.5,-46,168.5,-44,171,-42]],
  'South Africa': [[17,-28.8,20,-28.4,20,-24.8,20.8,-26.8,23,-25.3,25.5,-25.6,27,-23.6,29,-22.2,31,-22.3,31.9,-24,32,-26,32.9,-26.8,32.5,-28.5,30.5,-31,27.5,-33.5,25,-34,20,-34.8,18.4,-34.2,18.2,-32]],
  'Lesotho': [[27,-29.6,28.5,-28.6,29.4,-29.5,28,-30.6]],
  'Eswatini': [[31,-26,32,-26,32,-27,31,-27]]
};

const toRings = flat => {
  const ring = [];
  for (let i = 0; i < flat.length; i += 2) ring.push([flat[i], flat[i + 1]]);
  ring.push(ring[0]);
  return [ring];
};

echarts.registerMap('world', {
  type: 'FeatureCollection',
  features: Object.keys(outlines).map(name => ({
    type: 'Feature',
    properties: { name },
    geometry: { type: 'MultiPolygon', coordinates: outlines[name].map(toRings) }
  }))
});

const rad = Math.PI / 180;
const mercator = {
  project: p => [p[0], -Math.log(Math.tan(Math.PI / 4 + p[1] * rad / 2)) / rad],
  unproject: p => [p[0], (2 * Math.atan(Math.exp(-p[1] * rad)) - Math.PI / 2) / rad]
};

const legendPieces = (row, offset) => row.map((v, i) => ({ value: v, label: String(v), color: legendColors[offset + i] }));
const legendRow = (row, offset, left, top) => ({
  type: 'piecewise',
  seriesIndex: [],
  orient: 'horizontal',
  align: 'left',
  left,
  top,
  itemWidth: 46,
  itemHeight: 46,
  itemGap: 23.7,
  textGap: 12,
  itemSymbol: 'rect',
  selectedMode: false,
  showLabel: true,
  textStyle: { fontSize: 34, color: '#444', fontFamily: 'Liberation Sans' },
  pieces: legendPieces(row, offset)
});

// gear outline, wavy ring around a small circle
const gearPoints = [];
for (let i = 0; i < 120; i++) {
  const a = i / 120 * Math.PI * 2;
  const r = 24.5 + 2.8 * Math.cos(8 * a);
  gearPoints.push([57.5 + r * Math.cos(a), 57 + r * Math.sin(a)]);
}

const chart = echarts.init(document.getElementById('main'));
chart.setOption({
  animation: false,
  backgroundColor: '#fff',
  title: {
    text: 'Average Time in Bed (minutes)',
    left: 'center',
    top: 689,
    textStyle: { fontSize: 34.5, fontWeight: 'bold', color: '#444', fontFamily: 'Liberation Sans' }
  },
  visualMap: [
    {
      type: 'continuous',
      show: false,
      seriesIndex: 0,
      min: 350,
      max: 450,
      inRange: { color: legendColors }
    },
    legendRow(legendRowOne, 0, 40, 735),
    legendRow(legendRowTwo, legendRowOne.length, 248, 793)
  ],
  graphic: [
    { type: 'polygon', shape: { points: gearPoints }, style: { fill: 'none', stroke: '#666', lineWidth: 2.5 } },
    { type: 'circle', shape: { cx: 57.5, cy: 57, r: 9 }, style: { fill: 'none', stroke: '#666', lineWidth: 2.5 } }
  ],
  series: [{
    type: 'map',
    map: 'world',
    projection: mercator,
    boundingCoords: [[-180, 81.1], [180, -57.24]],
    layoutCenter: [540, 325],
    layoutSize: 1080,
    silent: true,
    label: { show: false },
    emphasis: { disabled: true },
    itemStyle: { areaColor: '#f0f0f0', borderColor: '#5f5f5f', borderWidth: 0.9 },
    data: countryNames.map((name, i) => ({
      name,
      value: countryValues[i],
      itemStyle: { borderColor: countryValues[i] >= 402 ? '#dcebf5' : '#4f6f72', borderWidth: 0.9 }
    }))
  }]
});
</script>
</body>
</html>
